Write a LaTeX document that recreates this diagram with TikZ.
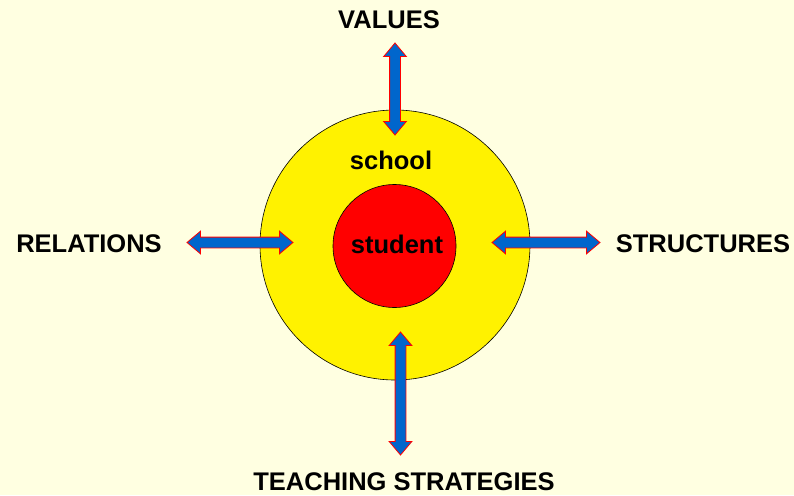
\documentclass[tikz,border=0pt]{standalone}
\usepackage{fontspec}
\setmainfont{Liberation Sans}
\usetikzlibrary{shapes.arrows}
\definecolor{bgyellow}{RGB}{255,255,225}
\definecolor{arrowblue}{RGB}{0,102,204}
\tikzset{
  label/.style={font=\fontsize{25.5}{30}\selectfont\bfseries,inner sep=0pt},
  blockarrow/.style={double arrow,draw=red,fill=arrowblue,line width=0.8pt,
    inner xsep=0pt,inner ysep=5pt,text height=0pt,text depth=0pt,
    double arrow head extend=6pt,double arrow tip angle=80}
}
\begin{document}
\begin{tikzpicture}[x=1pt,y=-1pt]
  \fill[bgyellow] (0,0) rectangle (794,495);
  \useasboundingbox (0,0) rectangle (794,495);

  \draw[fill=yellow,line width=0.6pt] (395,245) circle (135);
  \draw[fill=red,line width=0.6pt] (394.5,246) circle (61.5);

  \node[label] (school) at (391,160) {school};
  \node[label] (student) at (397,244) {student};

  \node[label] (values) at (389,20) {VALUES};
  \node[label] (relations) at (89,244) {RELATIONS};
  \node[label] (structures) at (703,244) {STRUCTURES};
  \node[label] (teaching) at (404,482) {TEACHING STRATEGIES};

  \node[blockarrow,minimum height=92pt,rotate=90] (up) at (395,89) {};
  \node[blockarrow,minimum height=106pt] (left) at (240,242.5) {};
  \node[blockarrow,minimum height=108pt] (right) at (546,242.5) {};
  \node[blockarrow,minimum height=123pt,rotate=90] (down) at (400.5,393.5) {};
\end{tikzpicture}
\end{document}
